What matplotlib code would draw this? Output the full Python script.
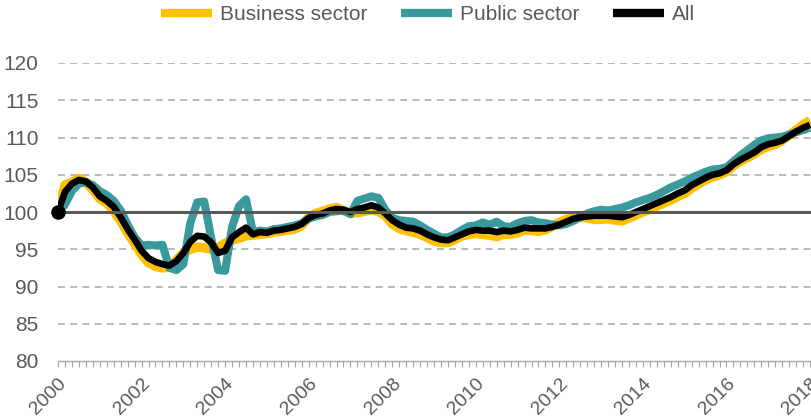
import numpy as np
import matplotlib
matplotlib.use("Agg")
import matplotlib.pyplot as plt
from matplotlib.ticker import MultipleLocator, FixedLocator

plt.rcParams['font.family'] = ['Liberation Sans', 'DejaVu Sans']

# Bi-monthly observations, Jan 2000 .. Jan 2018 (index = 100 in Jan 2000)
start_year = 2000
steps_per_year = 6

business = [100.0, 103.6, 104.0, 104.5, 104.0, 103.0, 101.8, 101.2, 100.2, 98.8,
            97.2, 95.8, 94.3, 93.2, 92.7, 92.5, 92.6, 93.5, 94.5, 95.0,
            95.3, 95.2, 95.0, 95.2, 95.8, 96.2, 96.5, 96.8, 96.9, 97.0,
            97.1, 97.3, 97.4, 97.6, 97.7, 98.2, 99.3, 99.8, 100.1, 100.4,
            100.6, 100.2, 99.8, 99.9, 100.1, 100.3, 100.1, 99.5, 98.4, 97.8,
            97.5, 97.3, 97.0, 96.6, 96.1, 95.9, 95.9, 96.3, 96.8, 97.0,
            97.1, 97.0, 96.9, 96.7, 97.0, 97.0, 97.2, 97.6, 97.5, 97.4,
            97.6, 98.1, 98.6, 99.0, 99.2, 99.3, 99.2, 99.0, 99.0, 99.1,
            98.9, 98.8, 99.2, 99.6, 100.0, 100.4, 100.8, 101.2, 101.6, 102.1,
            102.5, 103.2, 103.8, 104.3, 104.7, 105.0, 105.4, 106.2, 106.8, 107.3,
            107.8, 108.4, 108.8, 109.1, 109.6, 110.3, 111.0, 111.7, 112.3]

public = [100.0, 101.0, 102.8, 103.8, 104.0, 103.6, 102.8, 102.3, 101.5, 100.2,
          98.3, 96.6, 95.5, 95.6, 95.5, 95.6, 92.5, 92.2, 93.0, 98.5,
          101.3, 101.4, 96.5, 92.2, 92.1, 98.0, 100.8, 101.7, 97.3, 97.5,
          97.4, 97.7, 97.8, 98.0, 98.2, 98.5, 99.1, 99.4, 99.6, 100.0,
          100.1, 100.2, 99.7, 101.5, 101.8, 102.1, 101.9, 100.3, 99.2, 98.9,
          98.8, 98.7, 98.2, 97.6, 97.1, 96.6, 96.6, 97.0, 97.6, 98.1,
          98.2, 98.6, 98.3, 98.7, 98.1, 98.0, 98.5, 98.8, 98.9, 98.6,
          98.5, 98.3, 98.2, 98.4, 98.8, 99.3, 99.8, 100.1, 100.3, 100.2,
          100.4, 100.6, 100.9, 101.3, 101.6, 101.9, 102.3, 102.8, 103.3, 103.7,
          104.1, 104.6, 105.0, 105.4, 105.7, 105.8, 106.0, 106.8, 107.6, 108.3,
          109.0, 109.6, 109.9, 110.0, 110.1, 110.4, 110.7, 111.0, 111.3]

all_sectors = [100.0, 102.7, 103.8, 104.3, 104.1, 103.3, 102.1, 101.5, 100.7, 99.3,
               97.7, 96.3, 94.8, 93.8, 93.3, 93.0, 92.8, 93.4, 94.5, 96.0,
               96.8, 96.7, 95.9, 94.5, 94.8, 96.6, 97.3, 97.9, 97.0, 97.3,
               97.2, 97.5, 97.6, 97.8, 98.0, 98.4, 99.2, 99.6, 99.8, 100.2,
               100.4, 100.3, 100.0, 100.4, 100.6, 100.9, 100.6, 99.8, 98.9, 98.3,
               97.9, 97.8, 97.5, 97.0, 96.6, 96.3, 96.2, 96.6, 97.0, 97.4,
               97.6, 97.5, 97.5, 97.3, 97.5, 97.4, 97.6, 97.9, 97.8, 97.8,
               97.8, 98.0, 98.3, 98.7, 99.1, 99.3, 99.4, 99.5, 99.5, 99.5,
               99.4, 99.3, 99.6, 100.0, 100.4, 100.8, 101.2, 101.6, 102.0, 102.5,
               102.9, 103.6, 104.1, 104.6, 105.0, 105.2, 105.6, 106.4, 107.0, 107.5,
               108.0, 108.7, 109.1, 109.3, 109.6, 110.2, 110.8, 111.3, 111.7]

year_ticks = [2000, 2002, 2004, 2006, 2008, 2010, 2012, 2014, 2016, 2018]
y_ticks = [80, 85, 90, 95, 100, 105, 110, 115, 120]
labels = ["Business sector", "Public sector", "All"]

x = start_year + np.arange(len(all_sectors)) / steps_per_year

W, H = 812, 417
fig = plt.figure(figsize=(W / 100, H / 100), dpi=100)
ax = fig.add_axes([58 / W, 1 - 361 / H, 753 / W, (361 - 63) / H])

txt = '#595959'
grid_c = '#A6A6A6'

for yv in y_ticks[1:]:
    if yv == 100:
        continue
    ax.axhline(yv, color=grid_c, lw=1.1, ls=(0, (4.5, 3.5)), zorder=1)

ax.plot(x, business, color='#FFC000', lw=6.8, solid_capstyle='butt', solid_joinstyle='round',
        zorder=3, label=labels[0])
ax.plot(x, public, color='#3A9A9B', lw=5.8, solid_capstyle='butt', solid_joinstyle='round',
        zorder=4, label=labels[1])
ax.plot(x, all_sectors, color='#000000', lw=4.8, solid_capstyle='butt', solid_joinstyle='round',
        zorder=5, label=labels[2])
ax.axhline(100, color='#595959', lw=2.2, zorder=6)
ax.plot(x[:1], all_sectors[:1], 'o', color='#000000', ms=9.5, zorder=7, clip_on=False)

ax.set_xlim(2000, 2000 + 753 / 41.78)
ax.set_ylim(80, 120)
ax.set_yticks(y_ticks)
ax.xaxis.set_major_locator(FixedLocator(year_ticks))
ax.xaxis.set_minor_locator(MultipleLocator(1 / 6))
ax.set_xticklabels([str(y) for y in year_ticks], rotation=45, ha='right',
                   rotation_mode='anchor', color=txt, fontsize=14)
ax.tick_params(axis='x', which='both', direction='out', length=4, width=0.8,
               color=grid_c, pad=6)
ax.tick_params(axis='y', length=0, labelsize=15, labelcolor=txt, pad=14)

for s in ['top', 'right', 'left']:
    ax.spines[s].set_visible(False)
ax.spines['bottom'].set_color(grid_c)
ax.spines['bottom'].set_linewidth(1.0)
ax.spines['bottom'].set_zorder(2)

leg = fig.legend(loc='center', bbox_to_anchor=(428 / W, 1 - 15 / H), ncol=3, frameon=False,
                 fontsize=15, handlelength=2.45, handletextpad=0.4, columnspacing=1.6,
                 labelcolor=txt)
for h in leg.legend_handles:
    h.set_linewidth(6)

fig.savefig('out.png', dpi=100)
